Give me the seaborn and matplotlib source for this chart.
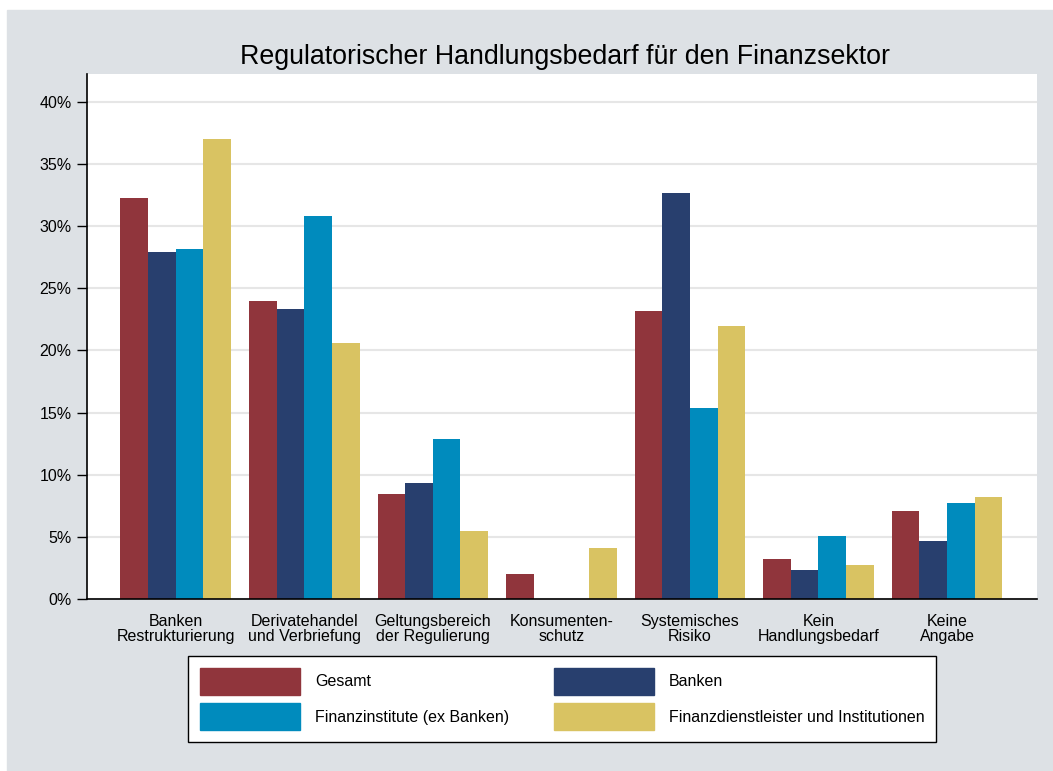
import numpy as np
import pandas as pd
import matplotlib as mpl
import matplotlib.pyplot as plt
import seaborn as sns
from matplotlib.patches import Rectangle

# -----------------------
# data (Anteile in %)
# -----------------------
categories = [
    "Banken\nRestrukturierung",
    "Derivatehandel\nund Verbriefung",
    "Geltungsbereich\nder Regulierung",
    "Konsumenten-\nschutz",
    "Systemisches\nRisiko",
    "Kein\nHandlungsbedarf",
    "Keine\nAngabe",
]
groups = ["Gesamt", "Banken", "Finanzinstitute (ex Banken)",
          "Finanzdienstleister und Institutionen"]

gesamt = [32.3, 24.0, 8.45, 2.0, 23.2, 3.2, 7.1]
banken = [27.9, 23.3, 9.3, 0.0, 32.7, 2.3, 4.7]
finanzinstitute = [28.2, 30.8, 12.9, 0.0, 15.4, 5.1, 7.7]
finanzdienst = [37.0, 20.6, 5.5, 4.1, 22.0, 2.7, 8.2]

colors = ["#90353c", "#283f6e", "#008bbd", "#d9c362"]
yticks = [0, 5, 10, 15, 20, 25, 30, 35, 40]

# -----------------------
# plot
# -----------------------
sns.set_theme(style="white", rc={"text.color": "black", "xtick.color": "black",
                                 "ytick.color": "black", "axes.labelcolor": "black"})
plt.rcParams["font.family"] = ["Liberation Sans", "DejaVu Sans"]

df = pd.DataFrame({
    "kategorie": np.repeat(categories, len(groups)),
    "gruppe": groups * len(categories),
    "wert": np.column_stack([gesamt, banken, finanzinstitute, finanzdienst]).ravel(),
})

fig = plt.figure(figsize=(10.53, 7.71), dpi=100, facecolor="white")
fig.patches.append(Rectangle((7 / 1053, 0), 1, (771 - 10) / 771,
                             transform=fig.transFigure, color="#dde1e5", zorder=-10))

ax = fig.add_axes([87 / 1053, (771 - 599) / 771, (1037 - 87) / 1053, (599 - 74) / 771])
ax.set_facecolor("white")

sns.barplot(data=df, x="kategorie", y="wert", hue="gruppe", order=categories,
            hue_order=groups, palette=colors, width=0.86, gap=0,
            saturation=1, linewidth=0, legend=False, ax=ax)

ax.set_xlim(-0.69, 6.7)
ax.set_ylim(0, 42.25)
ax.set_yticks(yticks)
ax.set_yticklabels([f"{t}%" for t in yticks])
ax.yaxis.grid(True, color="#e6e6e6", linewidth=1.5)
ax.set_axisbelow(True)
ax.tick_params(axis="y", which="both", left=True, length=7, width=1, color="black",
               labelsize=11.5, pad=4)
ax.tick_params(axis="x", bottom=False, labelsize=11.5, pad=5)
for lab in ax.get_xticklabels():
    lab.set_linespacing(1.0)
ax.set_xlabel("")
ax.set_ylabel("")
for s in ["top", "right"]:
    ax.spines[s].set_visible(False)
for s in ["left", "bottom"]:
    ax.spines[s].set_color("black")
    ax.spines[s].set_linewidth(1.2)

fig.text(565 / 1053, (771 - 57) / 771, "Regulatorischer Handlungsbedarf für den Finanzsektor",
         ha="center", va="center", fontsize=19.3)

# legend filled row by row like the original (matplotlib fills column-wise)
order = [0, 2, 1, 3]
handles = [Rectangle((0, 0), 1, 1, color=colors[i]) for i in order]
labels = [groups[i] for i in order]
leg = fig.legend(handles, labels, loc="center", bbox_to_anchor=(562 / 1053, (771 - 699) / 771),
                 ncol=2, frameon=True, fancybox=False, framealpha=1, fontsize=11.5,
                 handlelength=6.3, handleheight=2.2, handletextpad=0.9,
                 columnspacing=2.8, labelspacing=0.55, borderpad=0.75)
leg.get_frame().set_edgecolor("black")
leg.get_frame().set_linewidth(1.0)
leg.get_frame().set_facecolor("white")

plt.savefig("out.png", dpi=100, facecolor=fig.get_facecolor())
